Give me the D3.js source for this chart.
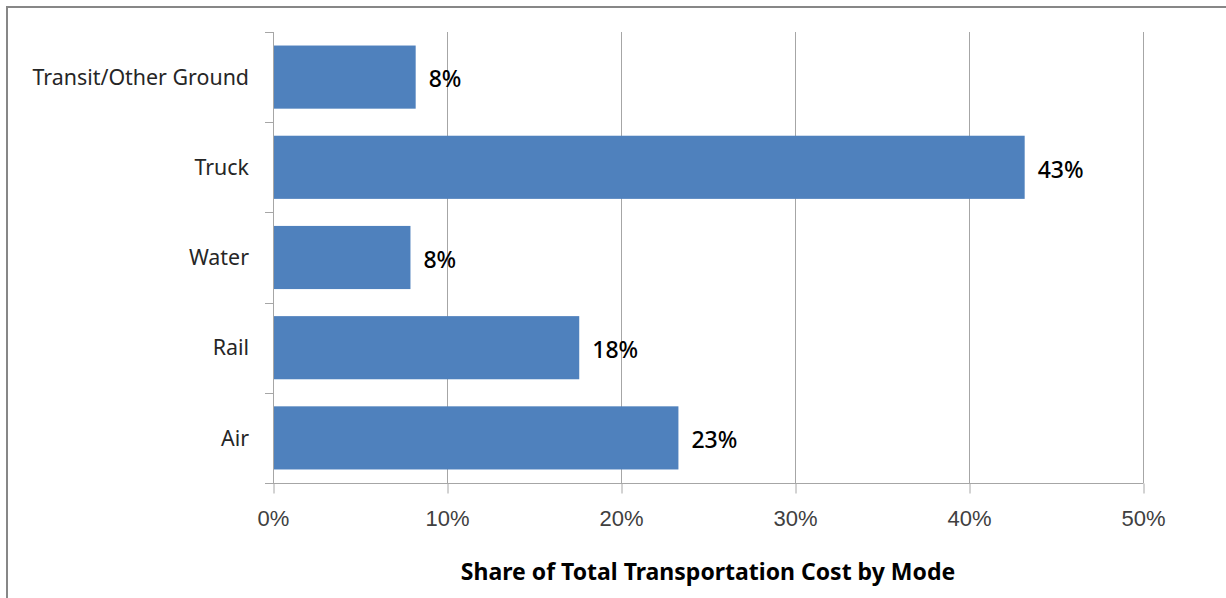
<!DOCTYPE html>
<html>
<head>
<meta charset="utf-8">
<script src="https://cdn.jsdelivr.net/npm/d3@7"></script>
<style>
  html, body { margin: 0; padding: 0; background: #fff; }
  svg { display: block; font-family: "Segoe UI", "Noto Sans", "Open Sans", sans-serif; }
</style>
</head>
<body>
<svg id="chart" width="1226" height="598"></svg>
<script>
const categories = ["Transit/Other Ground", "Truck", "Water", "Rail", "Air"];
const values = [8.2, 43.2, 7.9, 17.6, 23.3];
const labels = ["8%", "43%", "8%", "18%", "23%"];
const xTicks = [0, 10, 20, 30, 40, 50];
const axisTitle = "Share of Total Transportation Cost by Mode";

const svg = d3.select("#chart");
const W = 1226, H = 598;
const m = { left: 273, right: 1143, top: 32, bottom: 483 };

// outer frame (only top and left edges visible)
svg.append("rect")
  .attr("x", 7).attr("y", 7).attr("width", W + 20).attr("height", H + 20)
  .attr("fill", "none").attr("stroke", "#878787").attr("stroke-width", 2);

const x = d3.scaleLinear().domain([0, 50]).range([m.left, m.right]);
const y = d3.scaleBand().domain(categories).range([m.top, m.bottom]).paddingInner(0.3).paddingOuter(0.15);

// gridlines
svg.append("g").selectAll("line").data(xTicks.filter(d => d > 0)).join("line")
  .attr("x1", d => x(d) + 0.5).attr("x2", d => x(d) + 0.5)
  .attr("y1", m.top).attr("y2", m.bottom)
  .attr("stroke", "#a6a6a6").attr("stroke-width", 1);

// bars
svg.append("g").selectAll("rect").data(categories).join("rect")
  .attr("x", x(0))
  .attr("y", d => y(d))
  .attr("width", (d, i) => x(values[i]) - x(0))
  .attr("height", y.bandwidth())
  .attr("fill", "#4f81bd");

// value labels
svg.append("g").selectAll("text").data(categories).join("text")
  .attr("x", (d, i) => x(values[i]) + 13)
  .attr("y", d => y(d) + y.bandwidth() / 2 + 2)
  .attr("dy", "0.36em")
  .attr("font-size", 23)
  .attr("font-weight", 500)
  .attr("fill", "#000")
  .text((d, i) => labels[i]);

// x axis
const xAxis = d3.axisBottom(x).tickValues(xTicks).tickFormat(d => d + "%").tickSizeInner(10).tickSizeOuter(0).tickPadding(17);
const gx = svg.append("g").attr("transform", `translate(0,${m.bottom + 0.5})`).call(xAxis);
gx.select(".domain").attr("stroke", "#a6a6a6").attr("d", `M${m.left - 8},0H${m.right + 0.5}`);
gx.selectAll(".tick line").attr("stroke", "#a6a6a6").attr("transform", "translate(0.5,0)");
gx.selectAll(".tick text").attr("font-size", 22).attr("fill", "#404040").attr("font-family", null);

// y axis line with boundary ticks
const boundaries = d3.range(categories.length + 1).map(i => m.top + i * (m.bottom - m.top) / categories.length);
svg.append("line").attr("x1", m.left + 0.5).attr("x2", m.left + 0.5).attr("y1", m.top).attr("y2", m.bottom)
  .attr("stroke", "#a6a6a6");
svg.append("g").selectAll("line").data(boundaries.slice(0, -1)).join("line")
  .attr("x1", m.left - 8).attr("x2", m.left)
  .attr("y1", d => Math.round(d) + 0.5).attr("y2", d => Math.round(d) + 0.5)
  .attr("stroke", "#a6a6a6");

// category labels
svg.append("g").selectAll("text").data(categories).join("text")
  .attr("x", 249)
  .attr("y", d => y(d) + y.bandwidth() / 2)
  .attr("dy", "0.36em")
  .attr("text-anchor", "end")
  .attr("font-size", 21.4)
  .attr("fill", "#262626")
  .text(d => d);

// axis title
svg.append("text")
  .attr("x", 708)
  .attr("y", 580)
  .attr("text-anchor", "middle")
  .attr("font-size", 23)
  .attr("font-weight", "bold")
  .attr("fill", "#000")
  .text(axisTitle);
</script>
</body>
</html>
